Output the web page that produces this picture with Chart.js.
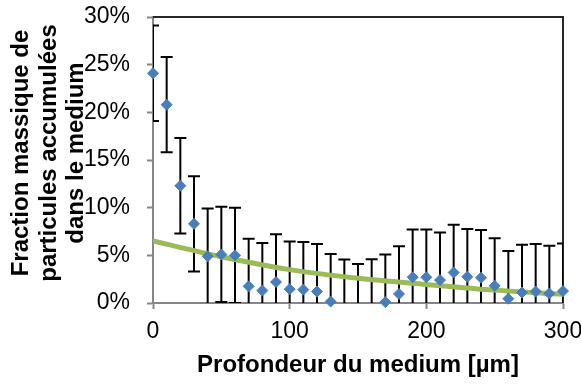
<!DOCTYPE html>
<html>
<head>
<meta charset="utf-8">
<script src="https://cdn.jsdelivr.net/npm/chart.js@4.4.1/dist/chart.umd.min.js"></script>
<style>
  body { margin: 0; background: #fff; }
  #wrap { width: 581px; height: 385px; }
</style>
</head>
<body>
<div id="wrap"><canvas id="profondeur"></canvas></div>
<script>
// profondeur (µm) et fraction massique (%)
var depth = [0, 10, 20, 30, 40, 50, 60, 70, 80, 90, 100, 110, 120, 130, 140, 150,
             160, 170, 180, 190, 200, 210, 220, 230, 240, 250, 260, 270, 280, 290, 300];
var fraction = [24.1, 20.8, 12.3, 8.3, 4.9, 5.1, 5.0, 1.75, 1.3, 2.2, 1.45, 1.4, 1.2, 0.15, -0.45, -0.9,
                -0.4, 0.1, 0.95, 2.7, 2.7, 2.4, 3.2, 2.75, 2.65, 1.8, 0.45, 1.1, 1.2, 1.0, 1.25];
var errorBar = [5, 5, 5, 5, 5, 5, 5, 5, 5, 5, 5, 5, 5, 5, 5, 5,
                5, 5, 5, 5, 5, 5, 5, 5, 5, 5, 5, 5, 5, 5, 5];

// courbe de tendance
var trendDepth = [0, 50, 100, 150, 200, 250, 300];
var trendFraction = [6.5, 4.85, 3.5, 2.6, 1.95, 1.35, 0.9];

var xTicks = [0, 100, 200, 300];
var yTicks = [0, 5, 10, 15, 20, 25, 30];

var yTitle = ["Fraction massique de", "particules accumulées", "dans le medium"];
var xTitle = "Profondeur du medium [µm]";

var points = [];
for (var i = 0; i < depth.length; i++) {
  points.push({x: depth[i], y: fraction[i]});
}
var trend = [];
for (var j = 0; j < trendDepth.length; j++) {
  trend.push({x: trendDepth[j], y: trendFraction[j]});
}

Chart.defaults.font.family = "'Liberation Sans', Arial, sans-serif";
Chart.defaults.color = "#000";

// cadre haut/droite + barres d'erreur
var errorBars = {
  id: 'errorBars',
  beforeDatasetsDraw: function (chart) {
    var ctx = chart.ctx;
    var xs = chart.scales.x;
    var ys = chart.scales.y;
    var area = chart.chartArea;

    ctx.save();
    ctx.fillStyle = '#262626';
    ctx.fillRect(Math.round(area.left), Math.round(area.top) - 1, Math.round(area.right - area.left) + 1, 2);
    ctx.fillRect(Math.round(area.right) - 1, Math.round(area.top) - 1, 2, Math.round(area.bottom - area.top) + 1);
    ctx.restore();

    ctx.save();
    ctx.beginPath();
    ctx.rect(area.left, area.top - 1, area.right - area.left, area.bottom - area.top + 1);
    ctx.clip();
    ctx.strokeStyle = '#000';
    ctx.lineWidth = 2;
    for (var i = 0; i < depth.length; i++) {
      var px = xs.getPixelForValue(depth[i]);
      var top = ys.getPixelForValue(fraction[i] + errorBar[i]);
      var bot = ys.getPixelForValue(fraction[i] - errorBar[i]);
      ctx.beginPath();
      ctx.moveTo(px, top);
      ctx.lineTo(px, bot);
      ctx.moveTo(px - 6, top);
      ctx.lineTo(px + 6, top);
      ctx.moveTo(px - 6, bot);
      ctx.lineTo(px + 6, bot);
      ctx.stroke();
    }
    ctx.restore();
  }
};

var yAxisTitle = {
  id: 'yAxisTitle',
  afterDraw: function (chart) {
    var ctx = chart.ctx;
    ctx.save();
    ctx.font = "bold 24px 'Liberation Sans', Arial, sans-serif";
    ctx.fillStyle = '#000';
    ctx.textAlign = 'center';
    ctx.textBaseline = 'alphabetic';
    for (var i = 0; i < yTitle.length; i++) {
      ctx.save();
      ctx.translate(28 + i * 27.5, 153);
      ctx.rotate(-Math.PI / 2);
      ctx.fillText(yTitle[i], 0, 0);
      ctx.restore();
    }
    ctx.restore();
  }
};

new Chart(document.getElementById("profondeur"), {
  type: 'scatter',
  data: {
    datasets: [
      {
        label: "Fraction massique",
        data: points,
        order: 0,
        clip: false,
        pointStyle: 'rectRot',
        pointRadius: function (c) { return c.raw && c.raw.y < 0 ? 0 : 5.5; },
        backgroundColor: '#4A7EBB',
        borderColor: '#4A7EBB',
        borderWidth: 1
      },
      {
        label: "Tendance",
        data: trend,
        order: 1,
        showLine: true,
        pointRadius: 0,
        borderColor: '#9BBB59',
        borderWidth: 5,
        cubicInterpolationMode: 'monotone'
      }
    ]
  },
  options: {
    responsive: true,
    maintainAspectRatio: false,
    animation: false,
    layout: { padding: { top: 17, right: 0, left: 0, bottom: 0 } },
    plugins: {
      legend: { display: false },
      tooltip: { enabled: false }
    },
    scales: {
      x: {
        type: 'linear',
        min: 0,
        max: 300,
        afterBuildTicks: function (s) { s.ticks = xTicks.map(function (v) { return {value: v}; }); },
        afterFit: function (s) { s.height = 82; s.paddingLeft = 0; s.paddingRight = 18; },
        ticks: { font: { size: 23 }, padding: 9, maxRotation: 0 },
        grid: {
          drawOnChartArea: false,
          tickColor: '#868686',
          tickWidth: 2,
          tickLength: 6
        },
        border: { color: '#868686', width: 2 },
        title: {
          display: true,
          text: xTitle,
          font: { size: 24, weight: 'bold' },
          padding: { top: 0, bottom: 5 }
        }
      },
      y: {
        type: 'linear',
        min: 0,
        max: 30,
        afterBuildTicks: function (s) { s.ticks = yTicks.map(function (v) { return {value: v}; }); },
        afterFit: function (s) { s.width = 153; s.paddingTop = 0; s.paddingBottom = 0; },
        ticks: {
          font: { size: 23 },
          padding: 17,
          callback: function (v) { return v + '%'; }
        },
        grid: {
          drawOnChartArea: false,
          tickColor: '#868686',
          tickWidth: 2,
          tickLength: 6
        },
        border: { color: '#868686', width: 2 }
      }
    }
  },
  plugins: [errorBars, yAxisTitle]
});
</script>
</body>
</html>
